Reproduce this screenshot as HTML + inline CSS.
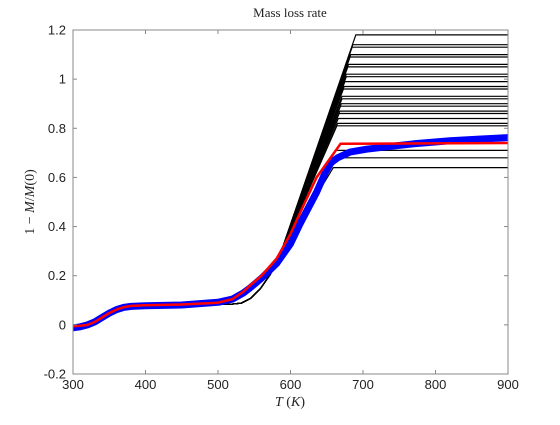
<!DOCTYPE html>
<html><head><meta charset="utf-8"><style>
body{margin:0;background:#fff;width:560px;height:420px;overflow:hidden}
svg text{font-family:"Liberation Sans",sans-serif;font-size:13px;fill:#222}
.serif{font-family:"Liberation Serif",serif !important}
</style></head><body>
<svg id="chart" width="560" height="420" xmlns="http://www.w3.org/2000/svg">
<g id="plot"></g>
<g id="axes"></g>
<text class="serif" x="290" y="17" text-anchor="middle" style="font-size:13px">Mass loss rate</text>
<text class="serif" x="290" y="406" text-anchor="middle" style="font-size:14px"><tspan font-style="italic">T</tspan> (<tspan font-style="italic">K</tspan>)</text>
<text class="serif" transform="translate(34,202) rotate(-90)" text-anchor="middle" style="font-size:14px">1 − <tspan font-style="italic">M</tspan>/<tspan font-style="italic">M</tspan>(0)</text>
</svg>
<script>
const xTicks=[300,400,500,600,700,800,900];
const yTicks=[-0.2,0,0.2,0.4,0.6,0.8,1,1.2];
const yTickLabels=["-0.2","0","0.2","0.4","0.6","0.8","1","1.2"];
// black model curves: plateau values and knee temperatures
const blackPlateau=[1.18,1.14,1.13,1.10,1.09,1.06,1.05,1.02,1.01,0.99,0.97,0.96,0.93,0.92,0.90,0.89,0.87,0.86,0.84,0.82,0.81,0.71,0.68,0.64];
const blackKnee=[690,686,685,683,682,680,679,677,677,675,674,673,671,671,670,669,668,667,666,665,664,662,660,659];
// shared onset segment of the black curves
const blackStartT=[440,500,520,532,545,558,572,585];
const blackStartV=[0.08,0.083,0.085,0.088,0.108,0.145,0.205,0.28];
// red fit
const redT=[300,310,320,330,340,350,360,370,380,400,450,500,520,535,544,560,581,600,613,636,669,900];
const redV=[-0.005,-0.004,0.0,0.012,0.03,0.048,0.062,0.072,0.077,0.08,0.083,0.09,0.105,0.135,0.16,0.2,0.27,0.37,0.455,0.6,0.737,0.74];
// blue measurement
const blueT=[300,310,320,330,340,350,360,370,380,400,450,500,520,535,544,560,581,600,613,636,648,656,665,682,705,728,770,820,860,900];
const blueV=[-0.012,-0.008,0.0,0.012,0.03,0.048,0.062,0.071,0.075,0.078,0.081,0.092,0.105,0.13,0.15,0.19,0.25,0.33,0.41,0.54,0.62,0.66,0.68,0.703,0.715,0.723,0.737,0.749,0.756,0.762];

const X0=73,X1=508,Y0=374,Y1=30;
const sx=t=>X0+(t-300)/600*(X1-X0);
const sy=v=>Y0-(v+0.2)/1.4*(Y0-Y1);
const NS="http://www.w3.org/2000/svg";
const plot=document.getElementById('plot'),axes=document.getElementById('axes');
function mk(tag,attrs,parent){const e=document.createElementNS(NS,tag);for(const k in attrs)e.setAttribute(k,attrs[k]);parent.appendChild(e);return e;}

blackPlateau.forEach((P,i)=>{
  const Tk=blackKnee[i];const pts=[];
  blackStartT.forEach((t,j)=>pts.push([t,blackStartV[j]]));
  pts.push([Tk,P]);
  pts.push([900,P]);
  const el=mk('polyline',{points:pts.map(p=>sx(p[0]).toFixed(1)+','+sy(p[1]).toFixed(1)).join(' '),fill:'none',stroke:'#000','stroke-width':1.2,'stroke-linejoin':'round'},plot);
  
  
});
const blue=mk('polyline',{points:blueT.map((t,i)=>sx(t).toFixed(1)+','+sy(blueV[i]).toFixed(1)).join(' '),fill:'none',stroke:'#0000ff','stroke-width':7,'stroke-linejoin':'round'},plot);


const red=mk('polyline',{points:redT.map((t,i)=>sx(t).toFixed(1)+','+sy(redV[i]).toFixed(1)).join(' '),fill:'none',stroke:'#ff0000','stroke-width':2.5,'stroke-linejoin':'round'},plot);



const frame=mk('rect',{x:X0,y:Y1,width:X1-X0,height:Y0-Y1,fill:'none',stroke:'#888','stroke-width':1},axes);


xTicks.forEach(t=>{
  const x=sx(t);
  mk('line',{x1:x,x2:x,y1:Y0,y2:Y0-4,stroke:'#888'},axes);
  mk('line',{x1:x,x2:x,y1:Y1,y2:Y1+4,stroke:'#888'},axes);
  const tx=mk('text',{x:x,y:Y0+15,'text-anchor':'middle'},axes);tx.textContent=t;
  
  
});
yTicks.forEach((v,i)=>{
  const y=sy(v);
  mk('line',{x1:X0,x2:X0+4,y1:y,y2:y,stroke:'#888'},axes);
  mk('line',{x1:X1,x2:X1-4,y1:y,y2:y,stroke:'#888'},axes);
  const tx=mk('text',{x:X0-7,y:y+4.5,'text-anchor':'end'},axes);tx.textContent=yTickLabels[i];
  
  
});
</script>
</body></html>
